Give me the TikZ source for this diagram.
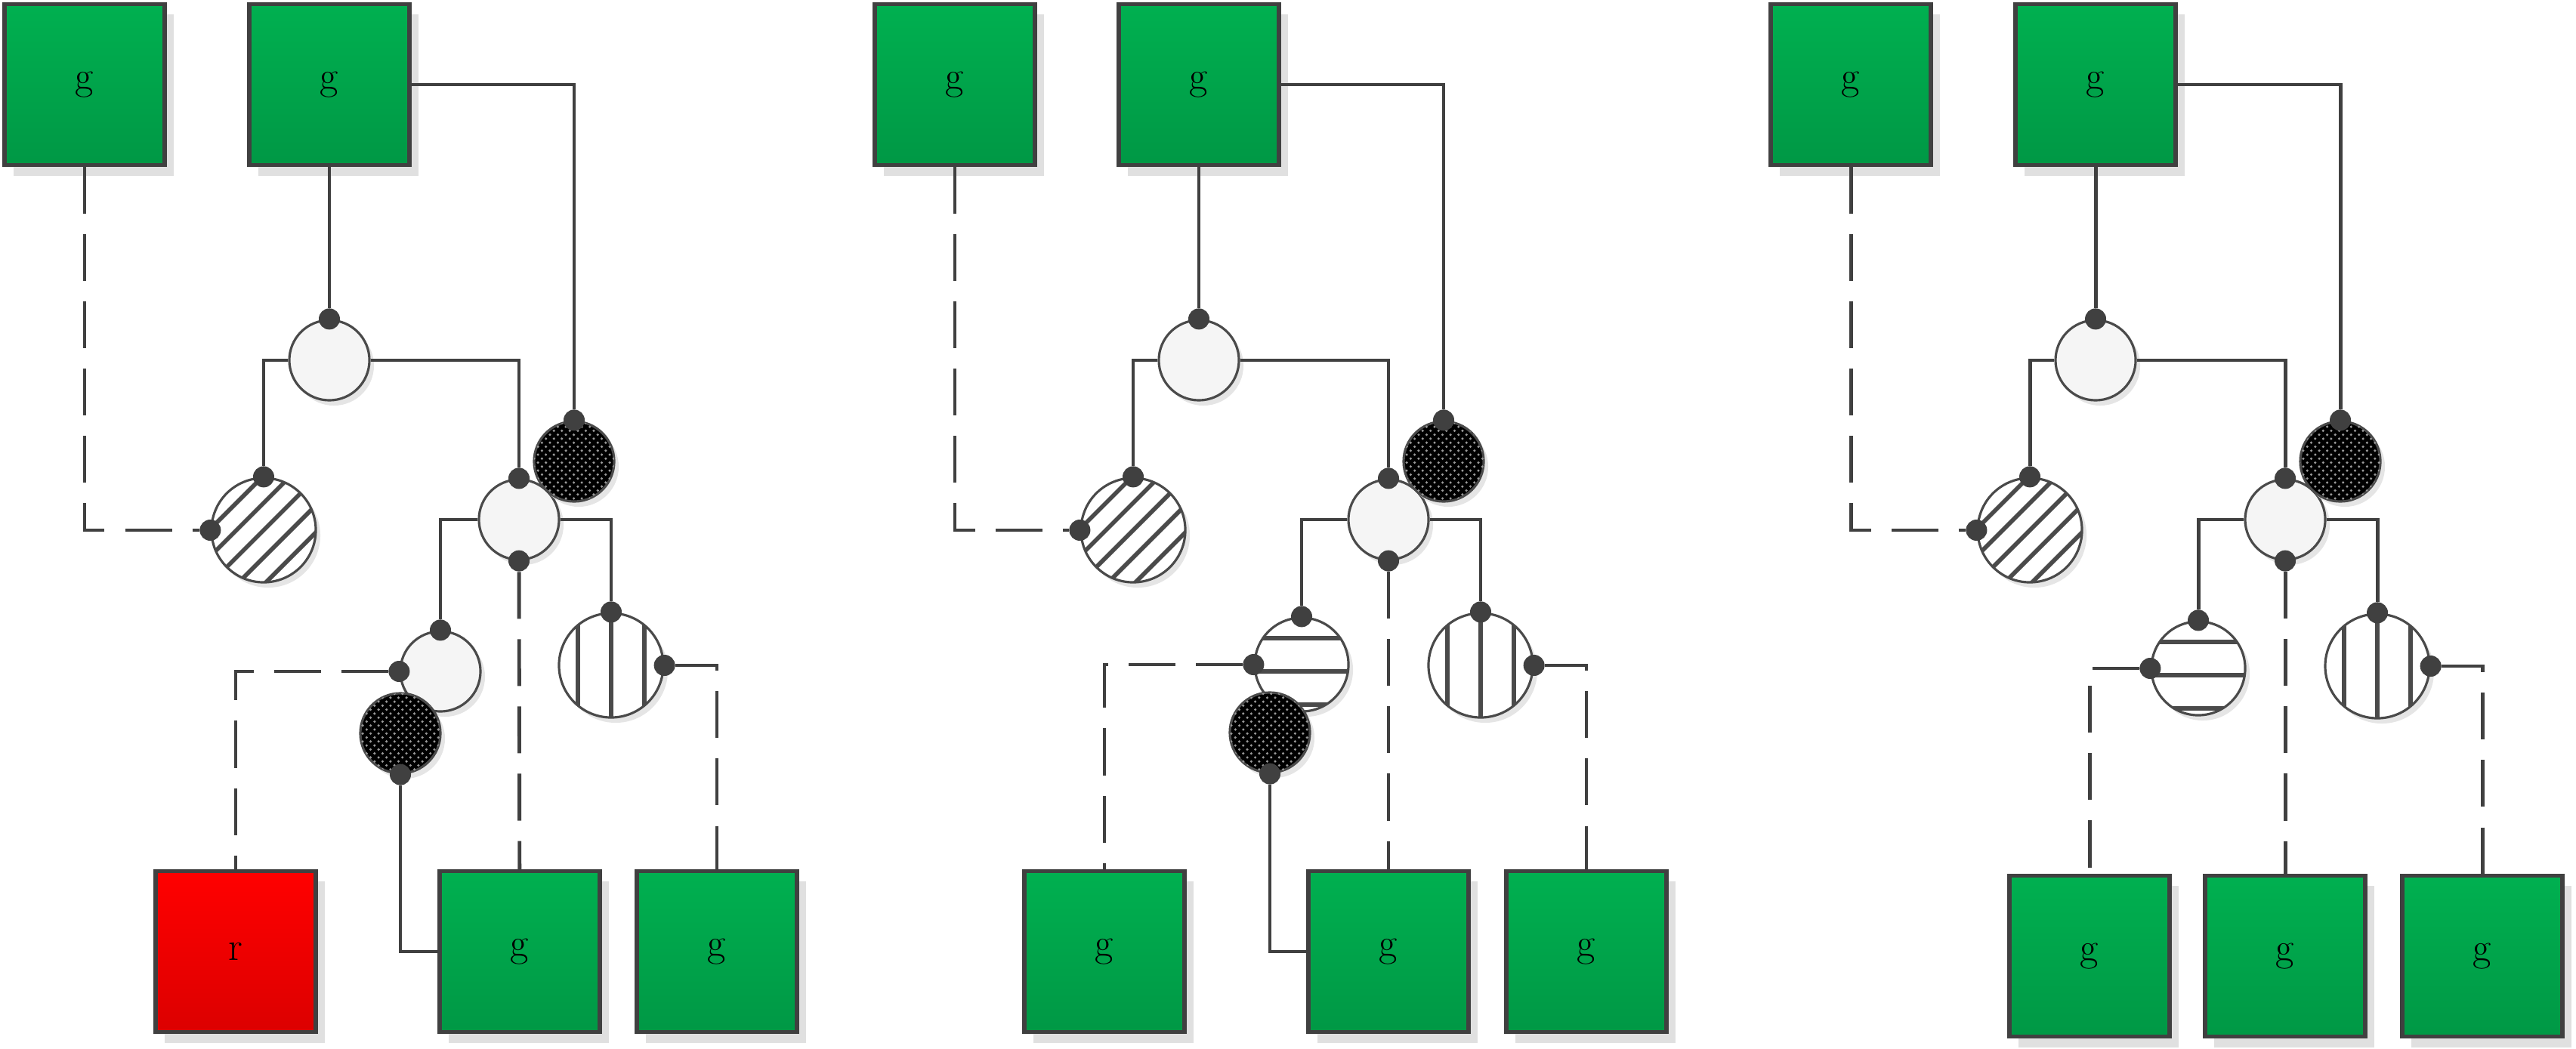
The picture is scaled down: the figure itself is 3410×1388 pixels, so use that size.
\documentclass[tikz,border=0pt]{standalone}
\usepackage{fontspec}
\usepackage{tikz}
\usetikzlibrary{positioning,shadows,patterns}

\definecolor{linegray}{HTML}{404040}
\definecolor{ringgray}{HTML}{4A4A4A}
\definecolor{ballfill}{HTML}{F5F5F5}
\definecolor{gtop}{HTML}{00B050}
\definecolor{gbot}{HTML}{009845}
\definecolor{rtop}{HTML}{FF0000}
\definecolor{rbot}{HTML}{DC0000}

\begin{document}
\begin{tikzpicture}[
  x=0.01cm, y=-0.01cm,
  gbox/.style={draw=linegray, line width=1.5pt, rectangle, minimum width=2.12cm, minimum height=2.13cm, top color=gtop, bottom color=gbot, font=\fontsize{15}{18}\selectfont, drop shadow={shadow xshift=0.12cm, shadow yshift=-0.14cm, fill=black!12, opacity=1}},
  rbox/.style={gbox, top color=rtop, bottom color=rbot},
  ball/.style={draw=ringgray, line width=0.9pt, circle, inner sep=0pt, minimum size=1.06cm, fill=ballfill, drop shadow={shadow xshift=0.06cm, shadow yshift=-0.07cm, fill=black!10, opacity=1}},
  darkball/.style={ball, fill=black, postaction={pattern=crosshatch dots, pattern color=gray!80}},
  diagball/.style={ball, fill=white, minimum size=1.38cm, path picture={
    \foreach \d in {-0.72,-0.36,0,0.36,0.72}
      \draw[line width=1.6pt] ([xshift=\d cm]path picture bounding box.center) ++(-1cm,-1cm) -- ++(2cm,2cm);}},
  vertball/.style={ball, fill=white, minimum size=1.38cm, path picture={
    \foreach \d in {-0.44,0,0.44}
      \draw[line width=1.6pt] ([xshift=\d cm]path picture bounding box.north) -- ([xshift=\d cm]path picture bounding box.south);}},
  horzball/.style={ball, fill=white, minimum size=1.24cm, path picture={
    \foreach \d in {0.35,-0.09,-0.53}
      \draw[line width=1.8pt] ([yshift=\d cm]path picture bounding box.west) -- ([yshift=\d cm]path picture bounding box.east);}},
  pin/.style={circle, fill=linegray, inner sep=0pt, minimum size=0.28cm},
  wire/.style={draw=linegray, line width=1.4pt},
  dashwire/.style={wire, dash pattern=on 0.62cm off 0.27cm}
]
  \useasboundingbox (0,0) rectangle (3410,1388);

  % Left panel
  \node[gbox] (lbox1) at (112,112) {g};
  \node[gbox] (tbox1) at (436,112) {g};
  \node[ball] (root1) at (436,477) {};
  \node[diagball] (hat1) at (349,702) {};
  \node[ball] (mid1) at (687,688) {};
  \node[darkball] (dark1) at (760,611) {};
  \node[ball] (sub1) at (583,889) {};
  \node[vertball] (vert1) at (809,881) {};
  \node[darkball] (drop1) at (530,971) {};
  \node[rbox] (red1) at (312,1260) {r};
  \node[gbox] (bot1b) at (688,1260) {g};
  \node[gbox] (bot1c) at (949,1260) {g};

  \node[pin] (root1t) at (root1.north) {};
  \node[pin] (hat1t) at (hat1.north) {};
  \node[pin] (hat1w) at (hat1.west) {};
  \node[pin] (dark1t) at (dark1.north) {};
  \node[pin] (mid1t) at (mid1.north) {};
  \node[pin] (mid1b) at (mid1.south) {};
  \node[pin] (sub1t) at (sub1.north) {};
  \node[pin] (sub1w) at (sub1.west) {};
  \node[pin] (vert1t) at (vert1.north) {};
  \node[pin] (vert1e) at (vert1.east) {};
  \node[pin] (drop1b) at (drop1.south) {};

  \draw[dashwire] (lbox1) |- (hat1w);
  \draw[wire] (tbox1) -- (root1t);
  \draw[wire] (tbox1) -| (dark1t);
  \draw[wire] (root1) -| (hat1t);
  \draw[wire] (root1) -| (mid1t);
  \draw[wire] (mid1) -| (sub1t);
  \draw[wire] (mid1) -| (vert1t);
  \draw[dashwire] (mid1b) -- (bot1b);
  \draw[dashwire] (vert1e) -| (bot1c);
  \draw[dashwire] (sub1w) -| (red1);
  \draw[wire] (drop1b) |- (bot1b);

  % Middle panel
  \node[gbox] (lbox2) at (1264,112) {g};
  \node[gbox] (tbox2) at (1587,112) {g};
  \node[ball] (root2) at (1587,477) {};
  \node[diagball] (hat2) at (1500,702) {};
  \node[ball] (mid2) at (1838,688) {};
  \node[darkball] (dark2) at (1911,611) {};
  \node[horzball] (horz2) at (1723,880) {};
  \node[vertball] (vert2) at (1960,881) {};
  \node[darkball] (drop2) at (1681,970) {};
  \node[gbox] (bot2a) at (1462,1260) {g};
  \node[gbox] (bot2b) at (1838,1260) {g};
  \node[gbox] (bot2c) at (2100,1260) {g};

  \node[pin] (root2t) at (root2.north) {};
  \node[pin] (hat2t) at (hat2.north) {};
  \node[pin] (hat2w) at (hat2.west) {};
  \node[pin] (dark2t) at (dark2.north) {};
  \node[pin] (mid2t) at (mid2.north) {};
  \node[pin] (mid2b) at (mid2.south) {};
  \node[pin] (horz2t) at (horz2.north) {};
  \node[pin] (horz2w) at (horz2.west) {};
  \node[pin] (vert2t) at (vert2.north) {};
  \node[pin] (vert2e) at (vert2.east) {};
  \node[pin] (drop2b) at (drop2.south) {};

  \draw[dashwire] (lbox2) |- (hat2w);
  \draw[wire] (tbox2) -- (root2t);
  \draw[wire] (tbox2) -| (dark2t);
  \draw[wire] (root2) -| (hat2t);
  \draw[wire] (root2) -| (mid2t);
  \draw[wire] (mid2) -| (horz2t);
  \draw[wire] (mid2) -| (vert2t);
  \draw[dashwire] (mid2b) -- (bot2b);
  \draw[dashwire] (vert2e) -| (bot2c);
  \draw[dashwire] (horz2w) -| (bot2a);
  \draw[wire] (drop2b) |- (bot2b);

  % Right panel
  \node[gbox] (lbox3) at (2450,112) {g};
  \node[gbox] (tbox3) at (2774,112) {g};
  \node[ball] (root3) at (2774,477) {};
  \node[diagball] (hat3) at (2687,702) {};
  \node[ball] (mid3) at (3025,688) {};
  \node[darkball] (dark3) at (3098,611) {};
  \node[horzball] (horz3) at (2910,885) {};
  \node[vertball] (vert3) at (3147,882) {};
  \node[gbox] (bot3a) at (2766,1266) {g};
  \node[gbox] (bot3b) at (3025,1266) {g};
  \node[gbox] (bot3c) at (3286,1266) {g};

  \node[pin] (root3t) at (root3.north) {};
  \node[pin] (hat3t) at (hat3.north) {};
  \node[pin] (hat3w) at (hat3.west) {};
  \node[pin] (dark3t) at (dark3.north) {};
  \node[pin] (mid3t) at (mid3.north) {};
  \node[pin] (mid3b) at (mid3.south) {};
  \node[pin] (horz3t) at (horz3.north) {};
  \node[pin] (horz3w) at (horz3.west) {};
  \node[pin] (vert3t) at (vert3.north) {};
  \node[pin] (vert3e) at (vert3.east) {};

  \draw[dashwire] (lbox3) |- (hat3w);
  \draw[wire] (tbox3) -- (root3t);
  \draw[wire] (tbox3) -| (dark3t);
  \draw[wire] (root3) -| (hat3t);
  \draw[wire] (root3) -| (mid3t);
  \draw[wire] (mid3) -| (horz3t);
  \draw[wire] (mid3) -| (vert3t);
  \draw[dashwire] (mid3b) -- (bot3b);
  \draw[dashwire] (vert3e) -| (bot3c);
  \draw[dashwire] (horz3w) -| (bot3a);
\end{tikzpicture}
\end{document}
